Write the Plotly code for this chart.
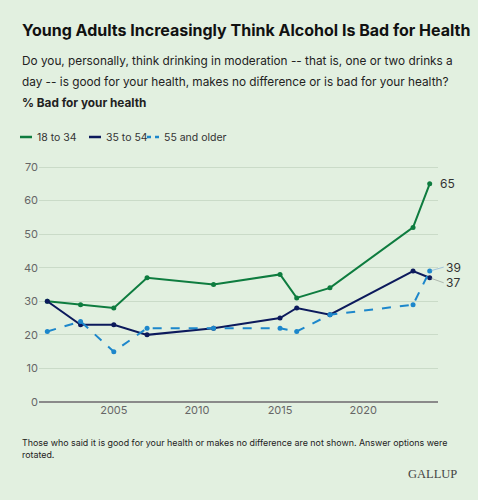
import plotly.graph_objects as go

# Survey years and % saying moderate drinking is bad for your health
years = [2001, 2003, 2005, 2007, 2011, 2015, 2016, 2018, 2023, 2024]
age_18_34 = [30, 29, 28, 37, 35, 38, 31, 34, 52, 65]
age_35_54 = [30, 23, 23, 20, 22, 25, 28, 26, 39, 37]
age_55_up = [21, 24, 15, 22, 22, 22, 21, 26, 29, 39]

series_names = ["18 to 34", "35 to 54", "55 and older"]
x_ticks = [2005, 2010, 2015, 2020]

GREEN = "#0e7c3f"
NAVY = "#0c1a5c"
BLUE = "#1d87cb"
BG = "#e2f0e0"
FONT = "Inter"

fig = go.Figure()

styles = [(GREEN, "solid"), (NAVY, "solid"), (BLUE, "dash")]
for name, vals, (color, dash) in zip(series_names, [age_18_34, age_35_54, age_55_up], styles):
    fig.add_trace(go.Scatter(
        x=years, y=vals, name=name, mode="lines+markers",
        line=dict(color=color, width=2, dash=dash),
        marker=dict(size=5, color=color),
        showlegend=False,
    ))


def px_y(p):
    # page pixel row -> paper y (plot spans rows 166..402)
    return (402 - p) / 236


def px_x(p):
    # page pixel column -> paper x (plot spans columns 39..438)
    return (p - 39) / 399


# hand-made legend (short line swatches like the original)
legend_pos = [(20, 35), (89, 104), (147, 162)]
for name, (color, dash), (x0, tx) in zip(series_names, styles, legend_pos):
    fig.add_shape(type="line", xref="paper", yref="paper",
                  x0=px_x(x0), x1=px_x(x0 + 12), y0=px_y(137), y1=px_y(137),
                  line=dict(color=color, width=2.5, dash="4px,4px" if dash == "dash" else "solid"))
    fig.add_annotation(xref="paper", yref="paper", x=px_x(tx), y=px_y(137),
                       text=name, showarrow=False, xanchor="left", yanchor="middle",
                       font=dict(size=10.5, color="#333333", family=FONT))

# end-point value labels
fig.add_annotation(x=years[-1], y=age_18_34[-1], text=str(age_18_34[-1]),
                   showarrow=False, xanchor="left", xshift=8,
                   font=dict(size=12, color="#333333"))
fig.add_annotation(x=years[-1], y=age_55_up[-1], text=str(age_55_up[-1]),
                   showarrow=True, arrowhead=0, arrowwidth=0.8, arrowcolor="#8fb8d8",
                   ax=14, ay=-4, xanchor="left", standoff=2,
                   font=dict(size=12, color="#333333"))
fig.add_annotation(x=years[-1], y=age_35_54[-1], text=str(age_35_54[-1]),
                   showarrow=True, arrowhead=0, arrowwidth=0.8, arrowcolor="#a0a8a0",
                   ax=14, ay=5, xanchor="left", standoff=2,
                   font=dict(size=12, color="#333333"))

texts = [
    (30, "<b>Young Adults Increasingly Think Alcohol Is Bad for Health</b>", 16, "#111111"),
    (61, "Do you, personally, think drinking in moderation -- that is, one or two drinks a", 11.8, "#222222"),
    (82, "day -- is good for your health, makes no difference or is bad for your health?", 11.8, "#222222"),
    (103, "<b>% Bad for your health</b>", 11.8, "#222222"),
]
for row, txt, size, col in texts:
    fig.add_annotation(xref="paper", yref="paper", x=px_x(20), y=px_y(row),
                       text=txt, showarrow=False, xanchor="left", yanchor="middle",
                       font=dict(size=size, color=col, family=FONT))

fig.add_annotation(xref="paper", yref="paper", x=px_x(20), y=px_y(435),
                   text="Those who said it is good for your health or makes no difference are not shown. Answer options were<br>rotated.",
                   showarrow=False, xanchor="left", yanchor="top", align="left",
                   font=dict(size=8.9, color="#222222", family=FONT))
fig.add_annotation(xref="paper", yref="paper", x=px_x(459), y=px_y(474),
                   text="GALLUP", showarrow=False, xanchor="right", yanchor="middle",
                   font=dict(size=12.5, color="#444444", family="Liberation Serif"))

fig.update_layout(
    width=478, height=500,
    paper_bgcolor=BG, plot_bgcolor=BG,
    font=dict(family=FONT, size=11, color="#333333"),
    margin=dict(l=39, r=40, t=166, b=98),
    showlegend=False,
    xaxis=dict(range=[2000.5, 2024.5], tickvals=x_ticks, showgrid=False,
               zeroline=False, showline=False, ticks="",
               tickfont=dict(size=11, color="#666666")),
    yaxis=dict(range=[0, 70.3], dtick=10, showgrid=True, gridcolor="#cadbc8",
               gridwidth=1, zeroline=True, zerolinecolor="#8a8a8a", zerolinewidth=2,
               showline=False, ticks="", tickfont=dict(size=11, color="#666666")),
)

fig.write_html("out.html", config={"displayModeBar": False},
               post_script="document.body.style.margin='0';")
